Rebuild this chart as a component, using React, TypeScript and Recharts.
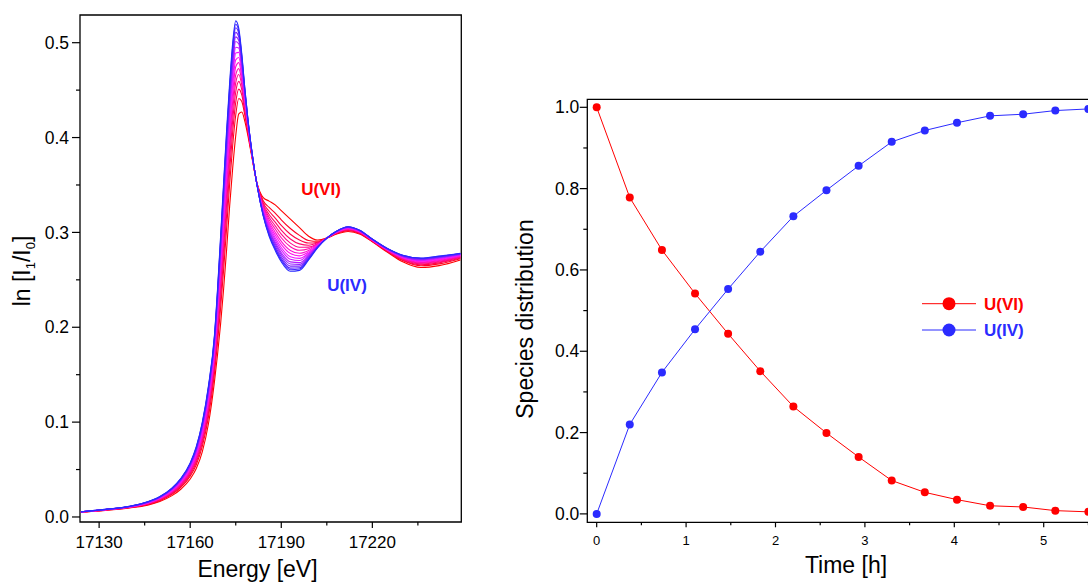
import { LineChart, Line, XAxis, YAxis, ReferenceArea } from "recharts"

// left panel: XANES spectra, energy grid [eV]
const energies = [
  17124, 17132, 17140, 17146, 17150, 17154, 17157, 17160, 17162, 17164, 17166, 17168, 17169, 17170,
  17171, 17172, 17173, 17174, 17175, 17176, 17177, 17178, 17179, 17180, 17182, 17184, 17186, 17188,
  17190, 17193, 17196, 17199, 17202, 17205, 17208, 17212, 17216, 17220, 17225, 17230, 17236, 17242, 17249,
]

// ln[I1/I0], one row per spectrum, first = U(VI) (red), last = U(IV) (blue)
const spectra = [
  [.005, .007, .0095, .0125, .0163, .0225, .0295, .040, .051, .069, .098, .143, .171, .203, .240, .282, .328, .368, .402, .425, .427, .417, .402, .385, .352, .337, .333, .329, .323, .314, .305, .296, .292, .294, .298, .301, .298, .290, .279, .269, .263, .265, .271],
  [.0051, .0072, .0098, .0131, .0172, .0239, .0316, .0431, .0551, .0746, .1052, .1518, .1834, .2196, .2602, .3047, .3514, .3918, .4238, .4412, .4380, .4233, .4052, .3864, .3516, .3336, .3263, .3204, .3133, .3041, .2969, .2915, .2906, .2940, .2985, .3019, .2987, .2905, .2797, .2703, .2648, .2668, .2723],
  [.0051, .0073, .0100, .0135, .0178, .0248, .0328, .0449, .0577, .0780, .1096, .1572, .1910, .2297, .2725, .3185, .3657, .4063, .4371, .4511, .4447, .4272, .4072, .3873, .3514, .3315, .3223, .3151, .3073, .2981, .2920, .2888, .2897, .2940, .2989, .3025, .2992, .2909, .2802, .2710, .2659, .2679, .2730],
  [.0052, .0074, .0102, .0138, .0183, .0255, .0339, .0465, .0597, .0808, .1132, .1616, .1972, .2380, .2826, .3299, .3774, .4182, .4480, .4592, .4502, .4303, .4088, .3880, .3512, .3298, .3189, .3108, .3025, .2931, .2879, .2865, .2890, .2940, .2991, .3029, .2995, .2911, .2805, .2717, .2668, .2688, .2737],
  [.0052, .0075, .0103, .0141, .0187, .0262, .0348, .0478, .0616, .0833, .1164, .1655, .2027, .2453, .2915, .3400, .3878, .4287, .4577, .4664, .4551, .4331, .4103, .3887, .3511, .3283, .3160, .3069, .2982, .2887, .2843, .2845, .2883, .2940, .2994, .3033, .2998, .2914, .2808, .2722, .2676, .2696, .2742],
  [.0053, .0075, .0104, .0144, .0191, .0267, .0356, .0490, .0632, .0854, .1192, .1690, .2076, .2518, .2994, .3488, .3969, .4380, .4661, .4727, .4593, .4356, .4115, .3892, .3509, .3269, .3134, .3036, .2944, .2849, .2812, .2828, .2878, .2940, .2996, .3037, .3001, .2916, .2811, .2727, .2683, .2703, .2747],
  [.0053, .0076, .0105, .0146, .0194, .0273, .0364, .0502, .0648, .0876, .1220, .1724, .2124, .2582, .3072, .3576, .4060, .4472, .4746, .4790, .4636, .4380, .4128, .3898, .3508, .3256, .3108, .3002, .2906, .2810, .2780, .2810, .2872, .2940, .2998, .3040, .3004, .2918, .2814, .2732, .2690, .2710, .2752],
  [.0053, .0077, .0106, .0148, .0197, .0278, .0371, .0512, .0662, .0895, .1244, .1753, .2165, .2637, .3139, .3652, .4138, .4551, .4819, .4844, .4673, .4401, .4139, .3903, .3507, .3245, .3086, .2973, .2874, .2777, .2753, .2795, .2867, .2940, .3000, .3043, .3006, .2920, .2816, .2736, .2696, .2716, .2756],
  [.0054, .0077, .0107, .0150, .0200, .0283, .0378, .0522, .0676, .0913, .1268, .1783, .2207, .2692, .3206, .3727, .4216, .4630, .4891, .4898, .4709, .4422, .4150, .3908, .3506, .3233, .3064, .2944, .2841, .2744, .2726, .2780, .2862, .2940, .3002, .3046, .3009, .2922, .2819, .2740, .2702, .2722, .2760],
  [.0054, .0078, .0108, .0152, .0203, .0287, .0384, .0531, .0687, .0929, .1288, .1807, .2241, .2738, .3262, .3790, .4281, .4696, .4952, .4943, .4740, .4440, .4159, .3912, .3505, .3224, .3045, .2920, .2814, .2717, .2704, .2768, .2858, .2940, .3003, .3049, .3011, .2923, .2821, .2744, .2707, .2727, .2764],
  [.0054, .0078, .0109, .0154, .0206, .0291, .0389, .0539, .0699, .0944, .1308, .1832, .2276, .2784, .3318, .3853, .4346, .4762, .5012, .4988, .4770, .4457, .4168, .3916, .3504, .3214, .3027, .2896, .2787, .2689, .2681, .2755, .2854, .2940, .3005, .3051, .3013, .2925, .2823, .2747, .2712, .2732, .2767],
  [.0054, .0079, .0110, .0155, .0208, .0294, .0394, .0546, .0708, .0957, .1324, .1851, .2303, .2821, .3363, .3904, .4398, .4815, .5061, .5024, .4795, .4471, .4175, .3919, .3503, .3207, .3012, .2877, .2766, .2667, .2663, .2745, .2851, .2940, .3006, .3053, .3014, .2926, .2824, .2750, .2716, .2736, .2770],
  [.0055, .0079, .0110, .0157, .0210, .0297, .0399, .0553, .0717, .0969, .1340, .1871, .2331, .2858, .3408, .3954, .4450, .4868, .5109, .5060, .4819, .4485, .4182, .3922, .3502, .3199, .2997, .2858, .2744, .2645, .2645, .2735, .2848, .2940, .3007, .3055, .3016, .2927, .2826, .2753, .2720, .2740, .2773],
  [.0055, .0079, .0111, .0158, .0212, .0300, .0403, .0560, .0726, .0981, .1356, .1891, .2359, .2895, .3453, .4004, .4502, .4921, .5157, .5096, .4843, .4499, .4189, .3925, .3501, .3191, .2982, .2839, .2722, .2623, .2627, .2725, .2845, .2940, .3008, .3057, .3018, .2928, .2828, .2756, .2724, .2744, .2776],
  [.0055, .0080, .0112, .0159, .0213, .0303, .0407, .0565, .0733, .0991, .1368, .1905, .2379, .2922, .3486, .4042, .4541, .4960, .5194, .5123, .4862, .4510, .4195, .3928, .3501, .3186, .2971, .2824, .2706, .2607, .2614, .2718, .2842, .2940, .3009, .3059, .3019, .2929, .2829, .2758, .2727, .2747, .2778],
  [.0055, .0080, .0112, .0160, .0215, .0305, .0410, .0570, .0740, .1000, .1380, .1920, .2400, .2950, .3520, .4080, .4580, .5000, .5230, .5150, .4880, .4520, .4200, .3930, .3500, .3180, .2960, .2810, .2690, .2590, .2600, .2710, .2840, .2940, .3010, .3060, .3020, .2930, .2830, .2760, .2730, .2750, .2780],
]

const energyTicks = [17130, 17145, 17160, 17175, 17190, 17205, 17220, 17235]
const energyMajor = [17130, 17160, 17190, 17220]
const absTicks = [0, 0.05, 0.1, 0.15, 0.2, 0.25, 0.3, 0.35, 0.4, 0.45, 0.5]

// right panel: species distribution
const times = [0, 0.37, 0.73, 1.1, 1.47, 1.83, 2.2, 2.57, 2.93, 3.3, 3.67, 4.03, 4.4, 4.77, 5.13, 5.5]
const uVI = [1.0, 0.778, 0.649, 0.542, 0.443, 0.351, 0.264, 0.199, 0.14, 0.082, 0.053, 0.035, 0.02, 0.017, 0.008, 0.005]
const uIV = [0.0, 0.22, 0.348, 0.454, 0.553, 0.645, 0.732, 0.796, 0.856, 0.915, 0.943, 0.962, 0.979, 0.983, 0.992, 0.996]

const timeTicks = [0, 0.5, 1, 1.5, 2, 2.5, 3, 3.5, 4, 4.5, 5, 5.5]
const fracTicks = [0, 0.1, 0.2, 0.3, 0.4, 0.5, 0.6, 0.7, 0.8, 0.9, 1.0]

const FONT = "'Liberation Sans', Arial, sans-serif"
const RED = "#ff0000"
const BLUE = "#2b2bff"

const spectraTable = energies.map((e, k) => {
  const row: Record<string, number> = { e }
  spectra.forEach((s, i) => {
    row[`s${i}`] = s[k]
  })
  return row
})

const kineticsTable = times.map((t, k) => ({ t, vi: uVI[k], iv: uIV[k] }))

function spectrumColor(i: number) {
  const f = i / (spectra.length - 1)
  return `hsl(${360 - 120 * f}, 100%, ${50 + 8 * f}%)`
}

const isTenth = (v: number) => Math.abs(v * 10 - Math.round(v * 10)) < 1e-6
const isInt = (v: number) => Math.abs(v - Math.round(v)) < 1e-6

function bottomTick(isMajor: (v: number) => boolean, fontSize: number, majorLen: number, minorLen: number, labelDy: number) {
  return (props: any) => {
    const { x, y, payload } = props
    const major = isMajor(payload.value)
    return (
      <g>
        <line x1={x} x2={x} y1={y} y2={y + (major ? majorLen : minorLen)} stroke="#000" strokeWidth={1.2} />
        {major && (
          <text x={x} y={y + labelDy} dy="0.35em" textAnchor="middle" fontSize={fontSize} fontFamily={FONT} fill="#000">
            {String(payload.value)}
          </text>
        )}
      </g>
    )
  }
}

function leftTick(isMajor: (v: number) => boolean, fontSize: number, majorLen: number, minorLen: number, gap: number) {
  return (props: any) => {
    const { x, y, payload } = props
    const major = isMajor(payload.value)
    return (
      <g>
        <line x1={x - (major ? majorLen : minorLen)} x2={x} y1={y} y2={y} stroke="#000" strokeWidth={1.2} />
        {major && (
          <text x={x - gap} y={y} dy="0.35em" textAnchor="end" fontSize={fontSize} fontFamily={FONT} fill="#000">
            {payload.value.toFixed(1)}
          </text>
        )}
      </g>
    )
  }
}

const eMin = 17123.7
const eMax = 17249.3
const aMin = -0.0053
const aMax = 0.5292
const tMin = -0.105
const tMax = 5.68
const fMin = -0.0207
const fMax = 1.0197

export default function App() {
  return (
    <div style={{ position: "fixed", left: 0, top: 0, width: 1088, height: 584, overflow: "hidden", background: "#fff" }}>
      <div style={{ position: "absolute", left: 0, top: 0 }}>
        <LineChart width={480} height={584} data={spectraTable} margin={{ top: 15, right: 18.7, left: 0, bottom: 22 }}>
          <XAxis
            dataKey="e"
            type="number"
            domain={[eMin, eMax]}
            allowDataOverflow
            ticks={energyTicks}
            interval={0}
            height={40}
            axisLine={false}
            tickLine={false}
            tickSize={0}
            tickMargin={0}
            tick={bottomTick((v) => energyMajor.includes(v), 17, 6, 3.5, 20.5)}
          />
          <YAxis
            type="number"
            domain={[aMin, aMax]}
            allowDataOverflow
            ticks={absTicks}
            interval={0}
            width={80}
            axisLine={false}
            tickLine={false}
            tickSize={0}
            tickMargin={0}
            tick={leftTick(isTenth, 17.5, 8, 4, 11)}
          />
          {spectra.map((_, i) => (
            <Line
              key={i}
              dataKey={`s${i}`}
              type="monotone"
              stroke={spectrumColor(i)}
              strokeWidth={1.1}
              dot={false}
              activeDot={false}
              isAnimationActive={false}
            />
          ))}
          <ReferenceArea x1={eMin} x2={eMax} y1={aMin} y2={aMax} fill="none" stroke="#000" strokeWidth={1.3} />
        </LineChart>
      </div>

      <div style={{ position: "absolute", left: 480, top: 0 }}>
        <LineChart width={650} height={584} data={kineticsTable} margin={{ top: 99.3, right: 25.5, left: 0, bottom: 21.7 }}>
          <XAxis
            dataKey="t"
            type="number"
            domain={[tMin, tMax]}
            allowDataOverflow
            ticks={timeTicks}
            interval={0}
            height={40}
            axisLine={false}
            tickLine={false}
            tickSize={0}
            tickMargin={0}
            tick={bottomTick(isInt, 13, 5, 3, 18)}
          />
          <YAxis
            type="number"
            domain={[fMin, fMax]}
            allowDataOverflow
            ticks={fracTicks}
            interval={0}
            width={107.3}
            axisLine={false}
            tickLine={false}
            tickSize={0}
            tickMargin={0}
            tick={leftTick((v) => isInt(v * 5), 17.5, 7.5, 4, 8)}
          />
          <Line
            dataKey="vi"
            type="linear"
            stroke={RED}
            strokeWidth={1}
            dot={{ r: 4, fill: RED, stroke: RED, strokeWidth: 0 }}
            activeDot={false}
            isAnimationActive={false}
          />
          <Line
            dataKey="iv"
            type="linear"
            stroke={BLUE}
            strokeWidth={1}
            dot={{ r: 4, fill: BLUE, stroke: BLUE, strokeWidth: 0 }}
            activeDot={false}
            isAnimationActive={false}
          />
          <ReferenceArea x1={tMin} x2={tMax} y1={fMin} y2={fMax} fill="none" stroke="#000" strokeWidth={1.3} />
        </LineChart>
      </div>

      <svg width={1088} height={584} style={{ position: "absolute", left: 0, top: 0, pointerEvents: "none" }} fontFamily={FONT}>
        {/* axis titles */}
        <text transform="rotate(-90, 30, 271)" x={30} y={271} textAnchor="middle" fontSize={23} fill="#000">
          ln [I<tspan fontSize={13} dy={5}>1</tspan>
          <tspan dy={-5}>/I</tspan>
          <tspan fontSize={13} dy={5}>0</tspan>
          <tspan dy={-5}>]</tspan>
        </text>
        <text x={257.5} y={577} textAnchor="middle" fontSize={23} fill="#000">
          Energy [eV]
        </text>
        <text transform="rotate(-90, 533, 319)" x={533} y={319} textAnchor="middle" fontSize={23} fill="#000">
          Species distribution
        </text>
        <text x={846} y={573} textAnchor="middle" fontSize={23} fill="#000">
          Time [h]
        </text>

        {/* spectrum annotations */}
        <text x={321} y={189} dy="0.35em" textAnchor="middle" fontSize={17} fontWeight="bold" fill={RED}>
          U(VI)
        </text>
        <text x={347} y={285} dy="0.35em" textAnchor="middle" fontSize={17} fontWeight="bold" fill={BLUE}>
          U(IV)
        </text>

        {/* legend */}
        <line x1={922} x2={976} y1={303.7} y2={303.7} stroke={RED} strokeWidth={1} />
        <circle cx={949} cy={303.7} r={6.5} fill={RED} />
        <text x={984} y={303.7} dy="0.35em" fontSize={17} fontWeight="bold" fill={RED}>
          U(VI)
        </text>
        <line x1={922} x2={976} y1={330} y2={330} stroke={BLUE} strokeWidth={1} />
        <circle cx={949} cy={330} r={6.5} fill={BLUE} />
        <text x={984} y={330} dy="0.35em" fontSize={17} fontWeight="bold" fill={BLUE}>
          U(IV)
        </text>
      </svg>
    </div>
  )
}
